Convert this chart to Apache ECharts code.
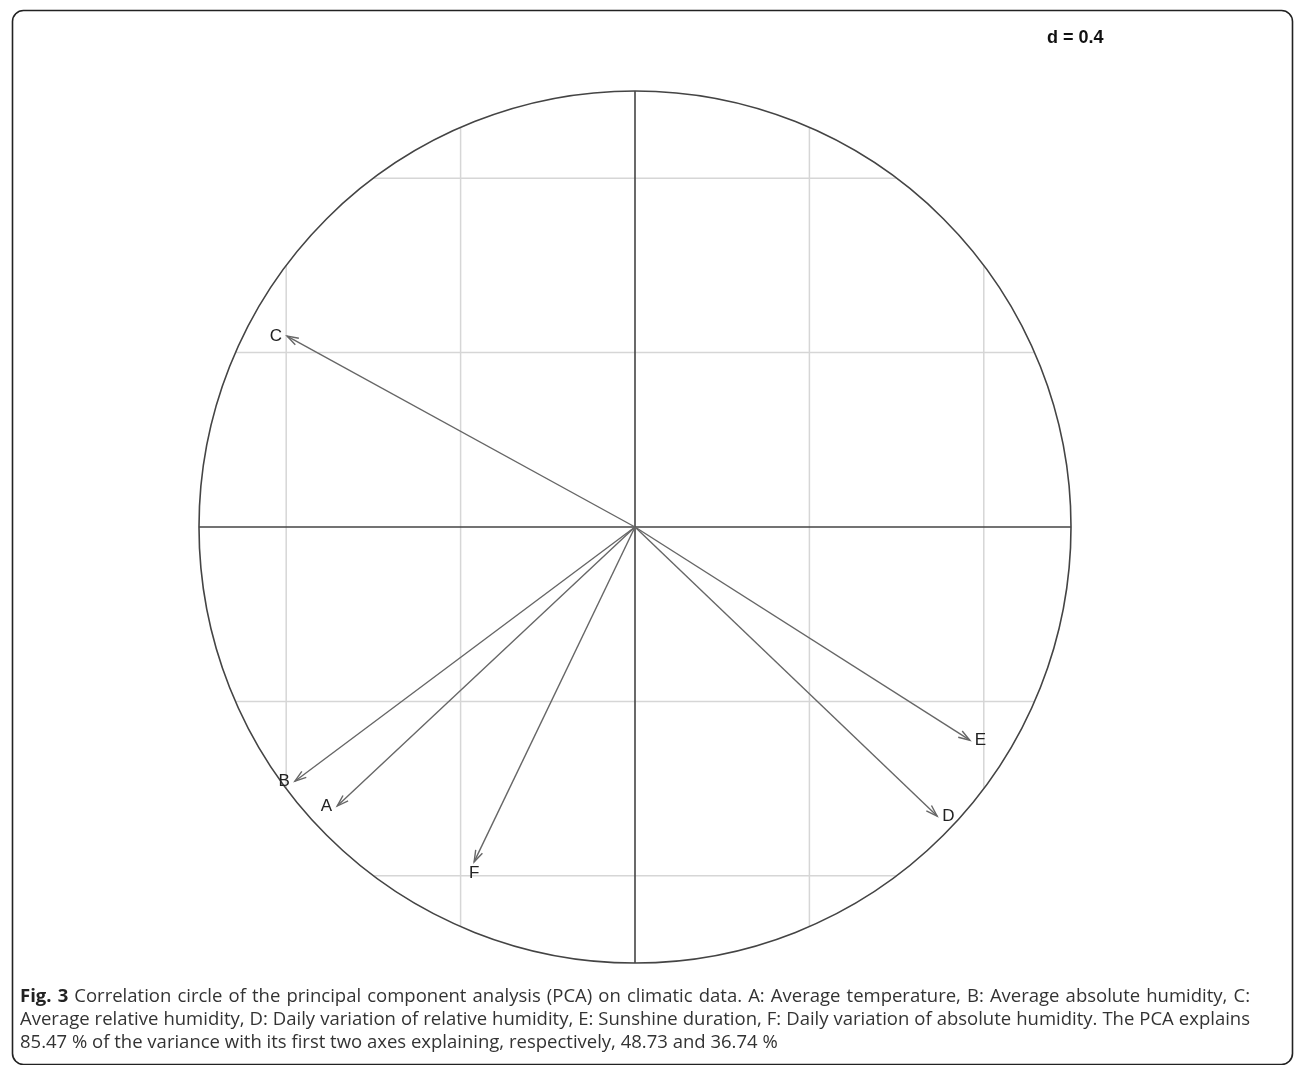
<!DOCTYPE html>
<html>
<head>
<meta charset="utf-8">
<script src="https://cdn.jsdelivr.net/npm/echarts@6/dist/echarts.min.js"></script>
<style>
  html, body { margin: 0; padding: 0; background: #fff; }
  #main { width: 1296px; height: 1065px; }
</style>
</head>
<body>
<div id="main"></div>
<script>
// variables of the correlation circle (coordinates on axis 1 and axis 2)
var labels    = ['A', 'B', 'C', 'D', 'E', 'F']
var axis1     = [-0.683, -0.780, -0.798, 0.693, 0.768, -0.369]
var axis2     = [-0.640, -0.583, 0.438, -0.663, -0.489, -0.768]
var gridTicks = [-0.8, -0.4, 0.4, 0.8]   // d = 0.4

// caption, one entry per printed line (first two are justified)
var captionBold  = 'Fig. 3'
var captionLines = [
    'Correlation circle of the principal component analysis (PCA) on climatic data. A: Average temperature, B: Average absolute humidity, C:',
    'Average relative humidity, D: Daily variation of relative humidity, E: Sunshine duration, F: Daily variation of absolute humidity. The PCA explains',
    '85.47 % of the variance with its first two axes explaining, respectively, 48.73 and 36.74 %'
]

var chart = echarts.init(document.getElementById('main'))

// grid lines, clipped to the unit circle
function renderGrid (params, api) {
    var v = api.value(0)
    var h = Math.sqrt(1 - v * v)
    var style = { stroke: '#d6d6d6', lineWidth: 1.5 }
    var a = api.coord([v, -h]), b = api.coord([v, h])
    var c = api.coord([-h, v]), d = api.coord([h, v])
    return {
        type: 'group',
        children: [
            { type: 'line', shape: { x1: a[0], y1: a[1], x2: b[0], y2: b[1] }, style: style },
            { type: 'line', shape: { x1: c[0], y1: c[1], x2: d[0], y2: d[1] }, style: style }
        ]
    }
}

function renderCircle (params, api) {
    var o = api.coord([0, 0])
    var r = api.coord([1, 0])[0] - o[0]
    var style = { stroke: '#444', lineWidth: 1.6, fill: null }
    var l = api.coord([-1, 0]), rr = api.coord([1, 0])
    var t = api.coord([0, 1]), bt = api.coord([0, -1])
    return {
        type: 'group',
        children: [
            { type: 'circle', shape: { cx: o[0], cy: o[1], r: r }, style: style },
            { type: 'line', shape: { x1: l[0], y1: l[1], x2: rr[0], y2: rr[1] }, style: style },
            { type: 'line', shape: { x1: t[0], y1: t[1], x2: bt[0], y2: bt[1] }, style: style }
        ]
    }
}

function renderArrow (params, api) {
    var x = api.value(0), y = api.value(1)
    var o = api.coord([0, 0])
    var p = api.coord([x, y])
    var ang = Math.atan2(p[1] - o[1], p[0] - o[0])
    var len = 12, spread = 18 * Math.PI / 180
    var h1 = [p[0] - len * Math.cos(ang - spread), p[1] - len * Math.sin(ang - spread)]
    var h2 = [p[0] - len * Math.cos(ang + spread), p[1] - len * Math.sin(ang + spread)]
    var style = { stroke: '#666', lineWidth: 1.4, fill: null }

    // label placement as in ade4: outside the tip, side chosen by direction
    var tx = p[0], ty = p[1], align = 'center', valign = 'middle'
    if (x > y && x > -y) { tx = p[0] + 5; align = 'left' }
    else if (x > y && x <= -y) { ty = p[1] + 11 }
    else if (x <= y && x <= -y) { tx = p[0] - 5; align = 'right' }
    else { ty = p[1] - 11 }

    return {
        type: 'group',
        children: [
            { type: 'line', shape: { x1: o[0], y1: o[1], x2: p[0], y2: p[1] }, style: style },
            { type: 'polyline', shape: { points: [h1, p, h2] }, style: style },
            {
                type: 'text', x: tx, y: ty,
                style: {
                    text: api.value(2), fill: '#222', align: align, verticalAlign: valign,
                    font: '17px "Liberation Sans", Arial, sans-serif'
                }
            }
        ]
    }
}

var arrowData = []
for (let i = 0; i < labels.length; i++) arrowData.push([axis1[i], axis2[i], labels[i]])

// justified caption: words placed one by one
var capFont  = '18.5px "Open Sans", sans-serif'
var capBold  = 'bold 18.5px "Open Sans", sans-serif'
var capLeft  = 20, capRight = 1250, capTop = 997, capStep = 23
var ctx = document.createElement('canvas').getContext('2d')
function textWidth (s, font) { ctx.font = font; return ctx.measureText(s).width }

var captionGraphics = []
captionLines.forEach((line, li) => {
    let words = line.split(' ').map(w => ({ text: w, font: capFont }))
    if (li === 0) words = captionBold.split(' ').map(w => ({ text: w, font: capBold })).concat(words)
    let total = 0
    words.forEach(w => { w.width = textWidth(w.text, w.font); total += w.width })
    let gap = textWidth(' ', capFont)
    if (li < captionLines.length - 1) gap = (capRight - capLeft - total) / (words.length - 1)
    let x = capLeft
    words.forEach(w => {
        captionGraphics.push({
            type: 'text', x: x, y: capTop + li * capStep, silent: true,
            style: { text: w.text, font: w.font, fill: w.font === capBold ? '#222' : '#333', verticalAlign: 'middle' }
        })
        x += w.width + gap
    })
})

var option = {
    animation: false,
    title: {
        text: 'd = 0.4', left: 1042, top: 24,
        textStyle: { fontFamily: '"Liberation Sans", Arial, sans-serif', fontSize: 18, fontWeight: 'bold', color: '#111' }
    },
    grid: { left: 199, top: 91, width: 872, height: 872 },
    xAxis: { type: 'value', min: -1, max: 1, show: false },
    yAxis: { type: 'value', min: -1, max: 1, show: false },
    series: [
        { type: 'custom', name: 'grid', clip: false, renderItem: renderGrid, data: gridTicks.map(v => [v]) },
        { type: 'custom', name: 'circle', clip: false, renderItem: renderCircle, data: [[0, 0]] },
        { type: 'custom', name: 'arrows', clip: false, renderItem: renderArrow, data: arrowData, encode: { x: 0, y: 1 } }
    ],
    graphic: [
        {
            type: 'rect', left: 10, top: 8, silent: true,
            shape: { width: 1280, height: 1054, r: 11 },
            style: { fill: null, stroke: '#222', lineWidth: 1.6 }
        }
    ].concat(captionGraphics)
}

chart.setOption(option)
window.addEventListener('resize', () => {
    chart.resize()
})
</script>
</body>
</html>
